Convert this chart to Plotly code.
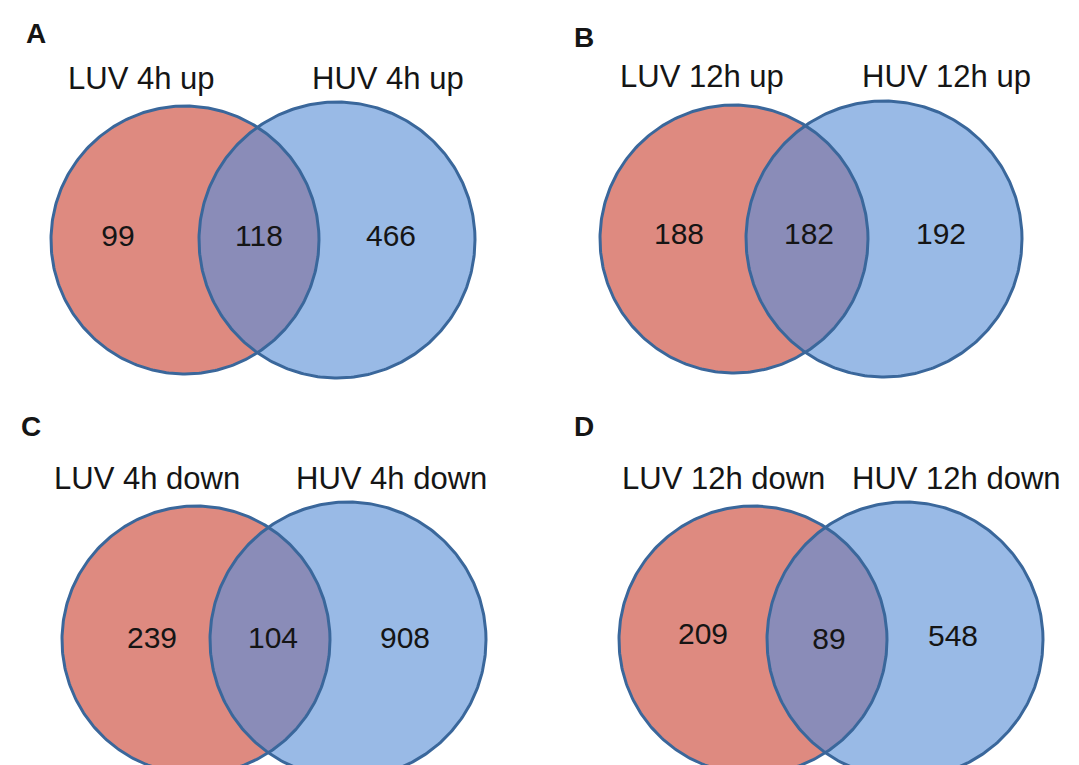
import numpy as np
import plotly.graph_objects as go

# ---- data ----
panel_letters = ["A", "B", "C", "D"]
left_labels = ["LUV 4h up", "LUV 12h up", "LUV 4h down", "LUV 12h down"]
right_labels = ["HUV 4h up", "HUV 12h up", "HUV 4h down", "HUV 12h down"]
left_only = [99, 188, 239, 209]
overlap = [118, 182, 104, 89]
right_only = [466, 192, 908, 548]

# ---- layout geometry (pixel coordinates) ----
W, H = 1079, 765
left_cx = [177, 726, 188, 745]
right_cx = [329, 876, 340, 897]
cy = [232, 231, 632, 632]
r_left = 134
r_right = 138
letter_xy = [(28, 25), (576, 29), (23, 418), (576, 418)]
label_y = [70, 68, 470, 470]
left_label_x = [133, 694, 139, 715]
right_label_x = [380, 938, 383, 948]
num_y = [(230, 230, 230), (228, 228, 228), (632, 632, 632), (628, 633, 630)]
num_x = [(110, 251, 383), (671, 801, 933), (144, 265, 397), (695, 821, 945)]

RED = "#DE8A80"
BLUE = "#99BAE6"
PURPLE = "#8A8CB8"
EDGE = "#3A679B"
FONT = "Liberation Sans, Arial, sans-serif"

fig = go.Figure()
t = np.linspace(0, 2 * np.pi, 361)


def circle(cx, cyy, r):
    return cx + r * np.cos(t), cyy + r * np.sin(t)


def lens(c1, c2, cyy, r1, r2):
    d = c2 - c1
    a = (d ** 2 + r1 ** 2 - r2 ** 2) / (2 * d)
    h = np.sqrt(max(r1 ** 2 - a ** 2, 0))
    th1 = np.arctan2(h, a)
    ang1 = np.linspace(-th1, th1, 200)
    xa = c1 + r1 * np.cos(ang1)
    ya = cyy + r1 * np.sin(ang1)
    th2 = np.arctan2(h, -(d - a))
    ang2 = np.linspace(th2, 2 * np.pi - th2, 200)
    xb = c2 + r2 * np.cos(ang2)
    yb = cyy + r2 * np.sin(ang2)
    return np.concatenate([xa, xb]), np.concatenate([ya, yb])


for i in range(4):
    xl, yl = circle(left_cx[i], cy[i], r_left)
    xr, yr = circle(right_cx[i], cy[i], r_right)
    fig.add_trace(go.Scatter(x=xl, y=yl, mode="lines", fill="toself", fillcolor=RED,
                             line=dict(width=0), hoverinfo="skip", showlegend=False))
    fig.add_trace(go.Scatter(x=xr, y=yr, mode="lines", fill="toself", fillcolor=BLUE,
                             line=dict(width=0), hoverinfo="skip", showlegend=False))
    xs, ys = lens(left_cx[i], right_cx[i], cy[i], r_left, r_right)
    fig.add_trace(go.Scatter(x=xs, y=ys, mode="lines", fill="toself", fillcolor=PURPLE,
                             line=dict(width=0), hoverinfo="skip", showlegend=False))
    fig.add_trace(go.Scatter(x=xl, y=yl, mode="lines", line=dict(color=EDGE, width=3),
                             hoverinfo="skip", showlegend=False))
    fig.add_trace(go.Scatter(x=xr, y=yr, mode="lines", line=dict(color=EDGE, width=3),
                             hoverinfo="skip", showlegend=False))
    vals = [left_only[i], overlap[i], right_only[i]]
    fig.add_trace(go.Scatter(x=list(num_x[i]), y=list(num_y[i]), mode="text",
                             text=[str(v) for v in vals],
                             textfont=dict(family=FONT, size=30, color="#151515"),
                             hoverinfo="skip", showlegend=False))
    fig.add_annotation(x=letter_xy[i][0], y=letter_xy[i][1], text="<b>%s</b>" % panel_letters[i],
                       showarrow=False, font=dict(family=FONT, size=28, color="#151515"))
    fig.add_annotation(x=left_label_x[i], y=label_y[i], text=left_labels[i], showarrow=False,
                       font=dict(family=FONT, size=31, color="#151515"))
    fig.add_annotation(x=right_label_x[i], y=label_y[i], text=right_labels[i], showarrow=False,
                       font=dict(family=FONT, size=31, color="#151515"))

fig.update_layout(
    width=W, height=H,
    margin=dict(l=0, r=0, t=0, b=0),
    paper_bgcolor="white", plot_bgcolor="white",
    xaxis=dict(range=[0, W], visible=False, fixedrange=True),
    yaxis=dict(range=[H, 0], visible=False, fixedrange=True),
)

fig.write_html("out.html")
